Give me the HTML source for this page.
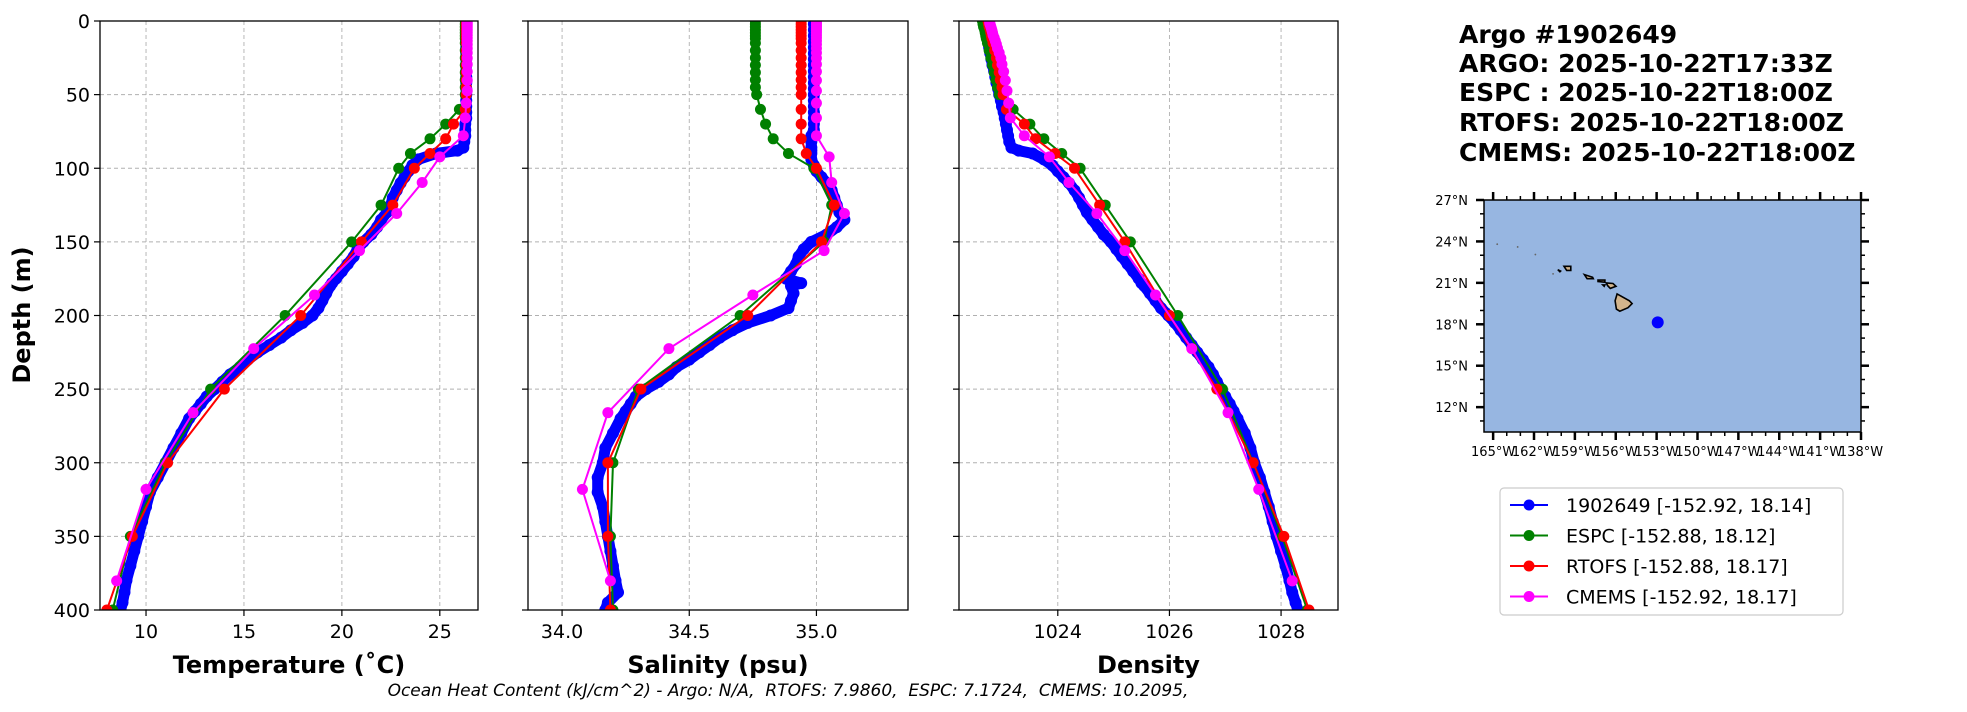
<!DOCTYPE html>
<html><head><meta charset="utf-8"><style>
body{margin:0;background:#fff;}
svg{display:block;font-family:"DejaVu Sans","Liberation Sans",sans-serif;}
text{white-space:pre;}
</style></head><body>
<svg id="fig" width="1967" height="712" viewBox="0 0 1967 712" xmlns="http://www.w3.org/2000/svg">
<g id="title-block" font-weight="bold" font-size="25" fill="#000">
<text x="1459" y="43">Argo #1902649</text>
<text x="1459" y="72">ARGO: 2025-10-22T17:33Z</text>
<text x="1459" y="101">ESPC : 2025-10-22T18:00Z</text>
<text x="1459" y="131">RTOFS: 2025-10-22T18:00Z</text>
<text x="1459" y="161">CMEMS: 2025-10-22T18:00Z</text>
</g>
<text x="788" y="696" text-anchor="middle" font-size="17" font-style="italic">Ocean Heat Content (kJ/cm^2) - Argo: N/A,  RTOFS: 7.9860,  ESPC: 7.1724,  CMEMS: 10.2095,</text>
<text transform="translate(30,315) rotate(-90)" text-anchor="middle" font-size="24" font-weight="bold">Depth (m)</text>
</svg>
<script>
// ---- data ----
const depthTicks = [0,50,100,150,200,250,300,350,400];
const modelDepths = [0,2,4,6,8,10,12,15,20,25,30,35,40,45,50,60,70,80,90,100,125,150,200,250,300,350,400];
const cmemsDepths = [0.5,1.5,2.6,3.8,5.1,6.4,7.9,9.6,11.4,13.5,15.8,18.5,21.6,25.2,29.4,34.4,40.3,47.4,55.8,65.8,77.9,92.3,109.7,130.7,155.9,186.1,222.5,266.0,318.1,380.2];
const argoDepths = [2,6,10,14,18,22,26,30,34,38,42,46,50,54,58,62,66,70,74,78,82,86,88,90,94,98,102,106,110,115,120,125,130,135,140,145,150,155,160,165,170,175,178,180,185,190,195,200,205,210,215,220,225,230,235,240,245,250,255,260,265,270,280,290,300,310,320,330,340,350,360,370,380,388,395,400];

const argoTemp = [26.35,26.35,26.35,26.35,26.35,26.35,26.35,26.35,26.35,26.35,26.35,26.35,26.35,26.35,26.35,26.35,26.35,26.3,26.3,26.3,26.25,26.2,25.9,24.8,23.9,23.6,23.4,23.2,23.0,22.8,22.6,22.5,22.3,22.0,21.8,21.5,21.1,20.8,20.6,20.3,20.0,19.7,19.5,19.4,19.2,19.0,18.8,18.5,18.0,17.4,16.9,16.3,15.7,15.2,14.8,14.3,13.9,13.5,13.1,12.8,12.5,12.2,11.8,11.4,11.0,10.6,10.2,10.0,9.8,9.6,9.4,9.2,9.0,8.9,8.8,8.7];
const espcTemp = [26.3,26.3,26.3,26.3,26.3,26.3,26.3,26.3,26.3,26.3,26.3,26.3,26.3,26.3,26.3,26.0,25.3,24.5,23.5,22.9,22.0,20.5,17.1,13.3,11.0,9.2,8.3];
const rtofsTemp = [26.35,26.35,26.35,26.35,26.35,26.35,26.35,26.35,26.35,26.35,26.35,26.35,26.35,26.35,26.35,26.3,25.7,25.3,24.5,23.7,22.6,21.0,17.9,14.0,11.1,9.3,8.0];
const cmemsTemp = [26.4,26.4,26.4,26.4,26.4,26.4,26.4,26.4,26.4,26.4,26.4,26.4,26.4,26.4,26.4,26.4,26.4,26.4,26.35,26.3,26.2,25.0,24.1,22.8,20.9,18.6,15.5,12.4,10.0,8.5];

const argoSal = [34.99,34.99,34.99,34.99,34.99,34.99,34.99,34.99,34.99,34.99,34.99,34.99,34.99,34.99,34.99,34.99,34.99,34.99,34.99,34.98,34.98,34.98,34.98,34.98,34.98,34.99,35.0,35.02,35.04,35.06,35.07,35.08,35.09,35.11,35.08,35.04,34.98,34.95,34.93,34.92,34.90,34.88,34.94,34.90,34.91,34.90,34.89,34.82,34.73,34.67,34.62,34.58,34.54,34.50,34.45,34.42,34.38,34.33,34.29,34.27,34.25,34.23,34.20,34.17,34.16,34.14,34.14,34.16,34.17,34.18,34.19,34.2,34.21,34.22,34.18,34.17];
const espcSal = [34.76,34.76,34.76,34.76,34.76,34.76,34.76,34.76,34.76,34.76,34.76,34.76,34.76,34.76,34.765,34.78,34.80,34.83,34.89,34.99,35.06,35.03,34.70,34.30,34.20,34.19,34.20];
const rtofsSal = [34.94,34.94,34.94,34.94,34.94,34.94,34.94,34.94,34.94,34.94,34.94,34.94,34.94,34.94,34.94,34.94,34.94,34.94,34.96,35.00,35.07,35.02,34.73,34.31,34.18,34.18,34.19];
const cmemsSal = [35.0,35.0,35.0,35.0,35.0,35.0,35.0,35.0,35.0,35.0,35.0,35.0,35.0,35.0,35.0,35.0,35.0,35.0,35.0,35.0,35.0,35.05,35.06,35.11,35.03,34.75,34.42,34.18,34.08,34.19];

const argoDens = [1022.72,1022.73,1022.74,1022.75,1022.77,1022.79,1022.81,1022.83,1022.86,1022.88,1022.9,1022.93,1022.95,1022.98,1023.0,1023.03,1023.05,1023.07,1023.09,1023.11,1023.13,1023.17,1023.3,1023.55,1023.75,1023.9,1024.0,1024.1,1024.2,1024.3,1024.38,1024.45,1024.52,1024.62,1024.72,1024.82,1024.95,1025.05,1025.15,1025.25,1025.35,1025.45,1025.5,1025.55,1025.65,1025.75,1025.85,1025.98,1026.1,1026.2,1026.3,1026.4,1026.5,1026.6,1026.7,1026.78,1026.85,1026.92,1027.0,1027.08,1027.15,1027.22,1027.35,1027.45,1027.52,1027.62,1027.7,1027.78,1027.85,1027.92,1028.0,1028.08,1028.15,1028.2,1028.26,1028.3];
const espcDens = [1022.65,1022.66,1022.67,1022.69,1022.7,1022.71,1022.72,1022.74,1022.77,1022.8,1022.83,1022.86,1022.89,1022.92,1022.95,1023.2,1023.5,1023.75,1024.07,1024.4,1024.85,1025.3,1026.15,1026.95,1027.5,1028.02,1028.47];
const rtofsDens = [1022.75,1022.76,1022.77,1022.79,1022.8,1022.81,1022.82,1022.84,1022.87,1022.9,1022.92,1022.95,1022.97,1023.0,1023.02,1023.08,1023.4,1023.6,1023.95,1024.3,1024.75,1025.2,1026.0,1026.85,1027.5,1028.05,1028.5];
const cmemsDens = [1022.78,1022.78,1022.79,1022.8,1022.81,1022.82,1022.83,1022.84,1022.86,1022.88,1022.9,1022.92,1022.95,1022.98,1023.0,1023.03,1023.06,1023.09,1023.12,1023.15,1023.4,1023.85,1024.2,1024.7,1025.2,1025.75,1026.4,1027.05,1027.6,1028.2];

const tempTicks = [10,15,20,25];
const salTicks = [34.0,34.5,35.0];
const densTicks = [1024,1026,1028];
const latTicks = [27,24,21,18,15,12];
const lonTicks = [-165,-162,-159,-156,-153,-150,-147,-144,-141,-138];
const floatLon = [-152.92];
const floatLat = [18.14];
const legendLabels = ["1902649 [-152.92, 18.14]","ESPC [-152.88, 18.12]","RTOFS [-152.88, 18.17]","CMEMS [-152.92, 18.17]"];
const seriesColors = ["#0000ff","#008000","#ff0000","#ff00ff"];

// ---- drawing ----
const NS="http://www.w3.org/2000/svg";
const svg=document.getElementById('fig');
function mk(tag,attrs,parent){const e=document.createElementNS(NS,tag);for(const k in attrs)e.setAttribute(k,attrs[k]);(parent||svg).appendChild(e);return e;}
const Y0=21,Y1=610;
const yScale=d=>Y0+(d/400)*(Y1-Y0);

function panel(name,x0,x1,xmin,xmax,ticks,fmt,title,showY,series){
  const xs=v=>x0+(v-xmin)/(xmax-xmin)*(x1-x0);
  const g=mk('g',{});
  
  
  const clipId='clip-'+name;
  const cp=mk('clipPath',{id:clipId},g);mk('rect',{x:x0,y:Y0,width:x1-x0,height:Y1-Y0},cp);
  depthTicks.forEach(d=>{
    const l=mk('line',{x1:x0,x2:x1,y1:yScale(d),y2:yScale(d),stroke:'#b0b0b0','stroke-width':0.9,'stroke-dasharray':'4,3'},g);
    
    
    mk('line',{x1:x0-6,x2:x0,y1:yScale(d),y2:yScale(d),stroke:'#000','stroke-width':1.2},g);
    if(showY){const t=mk('text',{x:x0-10,y:yScale(d)+7,'text-anchor':'end','font-size':19},g);t.textContent=d;
      
      }
  });
  ticks.forEach(v=>{
    const X=xs(v);
    mk('line',{x1:X,x2:X,y1:Y0,y2:Y1,stroke:'#b0b0b0','stroke-width':0.9,'stroke-dasharray':'4,3'},g);
    mk('line',{x1:X,x2:X,y1:Y1,y2:Y1+6,stroke:'#000','stroke-width':1.2},g);
    const t=mk('text',{x:X,y:Y1+28,'text-anchor':'middle','font-size':19},g);t.textContent=fmt(v);
    
    
  });
  const sg=mk('g',{'clip-path':'url(#'+clipId+')'},g);
  series.forEach((s,i)=>{
    const pts=s.d.map((d,j)=>xs(s.v[j]).toFixed(1)+','+yScale(d).toFixed(1)).join(' ');
    const sgg=mk('g',{},sg);
    
    
    if(i===0) mk('polyline',{points:pts,fill:'none',stroke:s.c,'stroke-width':11,'stroke-linejoin':'round','stroke-linecap':'round'},sgg);
    mk('polyline',{points:pts,fill:'none',stroke:s.c,'stroke-width':2},sgg);
    s.d.forEach((d,j)=>mk('circle',{cx:xs(s.v[j]),cy:yScale(d),r:i===0?6:5.5,fill:s.c},sgg));
  });
  mk('rect',{x:x0,y:Y0,width:x1-x0,height:Y1-Y0,fill:'none',stroke:'#000','stroke-width':1.3},g);
  const tt=mk('text',{x:(x0+x1)/2,y:673,'text-anchor':'middle','font-size':24,'font-weight':'bold'},g);tt.textContent=title;
  
  
}
panel('temperature',100,478,7.65,26.95,tempTicks,v=>String(v),'Temperature (˚C)',true,[
 {n:'argo',c:seriesColors[0],d:argoDepths,v:argoTemp},{n:'espc',c:seriesColors[1],d:modelDepths,v:espcTemp},
 {n:'rtofs',c:seriesColors[2],d:modelDepths,v:rtofsTemp},{n:'cmems',c:seriesColors[3],d:cmemsDepths,v:cmemsTemp}]);
panel('salinity',528,908,33.866,35.36,salTicks,v=>v.toFixed(1),'Salinity (psu)',false,[
 {n:'argo',c:seriesColors[0],d:argoDepths,v:argoSal},{n:'espc',c:seriesColors[1],d:modelDepths,v:espcSal},
 {n:'rtofs',c:seriesColors[2],d:modelDepths,v:rtofsSal},{n:'cmems',c:seriesColors[3],d:cmemsDepths,v:cmemsSal}]);
panel('density',959,1338,1022.23,1029.02,densTicks,v=>String(v),'Density',false,[
 {n:'argo',c:seriesColors[0],d:argoDepths,v:argoDens},{n:'espc',c:seriesColors[1],d:modelDepths,v:espcDens},
 {n:'rtofs',c:seriesColors[2],d:modelDepths,v:rtofsDens},{n:'cmems',c:seriesColors[3],d:cmemsDepths,v:cmemsDens}]);

// ---- map ----
const MX0=1484,MX1=1861,MY0=200,MY1=432;
const LON0=-165.67,LON1=-138,LAT0=10.2,LAT1=27;
const mx=l=>MX0+(l-LON0)/(LON1-LON0)*(MX1-MX0);
const my=l=>MY1-(l-LAT0)/(LAT1-LAT0)*(MY1-MY0);
const mg=mk('g',{});


mk('rect',{x:MX0,y:MY0,width:MX1-MX0,height:MY1-MY0,fill:'#97b6e1'},mg);
const islands=[
 [[-155.9,20.2],[-155.0,19.7],[-154.8,19.5],[-155.1,19.2],[-155.7,18.95],[-155.95,19.1],[-156.05,19.7]],
 [[-156.7,21.0],[-156.2,20.95],[-155.98,20.75],[-156.4,20.6],[-156.6,20.8]],
 [[-157.3,21.2],[-156.8,21.2],[-156.8,21.05],[-157.3,21.1]],
 [[-158.3,21.6],[-157.7,21.4],[-157.65,21.3],[-158.1,21.3]],
 [[-159.8,22.2],[-159.3,22.2],[-159.3,21.9],[-159.6,21.9]],
 [[-160.25,21.95],[-160.05,21.85],[-160.1,21.8]],
 [[-156.95,20.85],[-156.8,20.85],[-156.85,20.75]]
];
islands.forEach(p=>{const e=mk('polygon',{points:p.map(q=>mx(q[0]).toFixed(1)+','+my(q[1]).toFixed(1)).join(' '),fill:'#d2b48c',stroke:'#000','stroke-width':1.6},mg);
 
 });
[[-164.7,23.8],[-163.2,23.6],[-161.9,23.05],[-160.6,21.65]].forEach(q=>mk('circle',{cx:mx(q[0]),cy:my(q[1]),r:0.9,fill:'#666'},mg));
floatLon.forEach((lo,i)=>{const c=mk('circle',{cx:mx(lo),cy:my(floatLat[i]),r:6,fill:'#0000ff'},mg);
 
 });
mk('rect',{x:MX0,y:MY0,width:MX1-MX0,height:MY1-MY0,fill:'none',stroke:'#000','stroke-width':1.5},mg);
for(let la=11;la<=27;la++){const maj=la%3===0;const L=maj?8:4;
 mk('line',{x1:MX0-L,x2:MX0,y1:my(la),y2:my(la),stroke:'#000','stroke-width':maj?2.5:1.5},mg);
 mk('line',{x1:MX1,x2:MX1+L,y1:my(la),y2:my(la),stroke:'#000','stroke-width':maj?2.5:1.5},mg);}
for(let lo=-165;lo<=-138;lo++){const maj=lo%3===0;const L=maj?8:4;
 mk('line',{x1:mx(lo),x2:mx(lo),y1:MY0-L,y2:MY0,stroke:'#000','stroke-width':maj?2.5:1.5},mg);
 mk('line',{x1:mx(lo),x2:mx(lo),y1:MY1,y2:MY1+L,stroke:'#000','stroke-width':maj?2.5:1.5},mg);}
latTicks.forEach(la=>{const t=mk('text',{x:MX0-16,y:my(la)+5,'text-anchor':'end','font-size':13},mg);t.textContent=la+'°N';
 
 });
lonTicks.forEach(lo=>{const t=mk('text',{x:mx(lo),y:MY1+24,'text-anchor':'middle','font-size':13},mg);t.textContent=(-lo)+'°W';
 
 });

// ---- legend ----
const lg=mk('g',{});


mk('rect',{x:1500,y:488,width:343,height:127,rx:4,fill:'#fff',stroke:'#cccccc','stroke-width':1.2},lg);
legendLabels.forEach((lab,i)=>{const y=505+i*30.5;
 const e=mk('g',{},lg);
 
 
 mk('line',{x1:1510,x2:1548,y1:y,y2:y,stroke:seriesColors[i],'stroke-width':2},e);
 mk('circle',{cx:1529,cy:y,r:5.5,fill:seriesColors[i]},e);
 const t=mk('text',{x:1566,y:y+7,'font-size':19},e);t.textContent=lab;});
</script>
</body></html>
